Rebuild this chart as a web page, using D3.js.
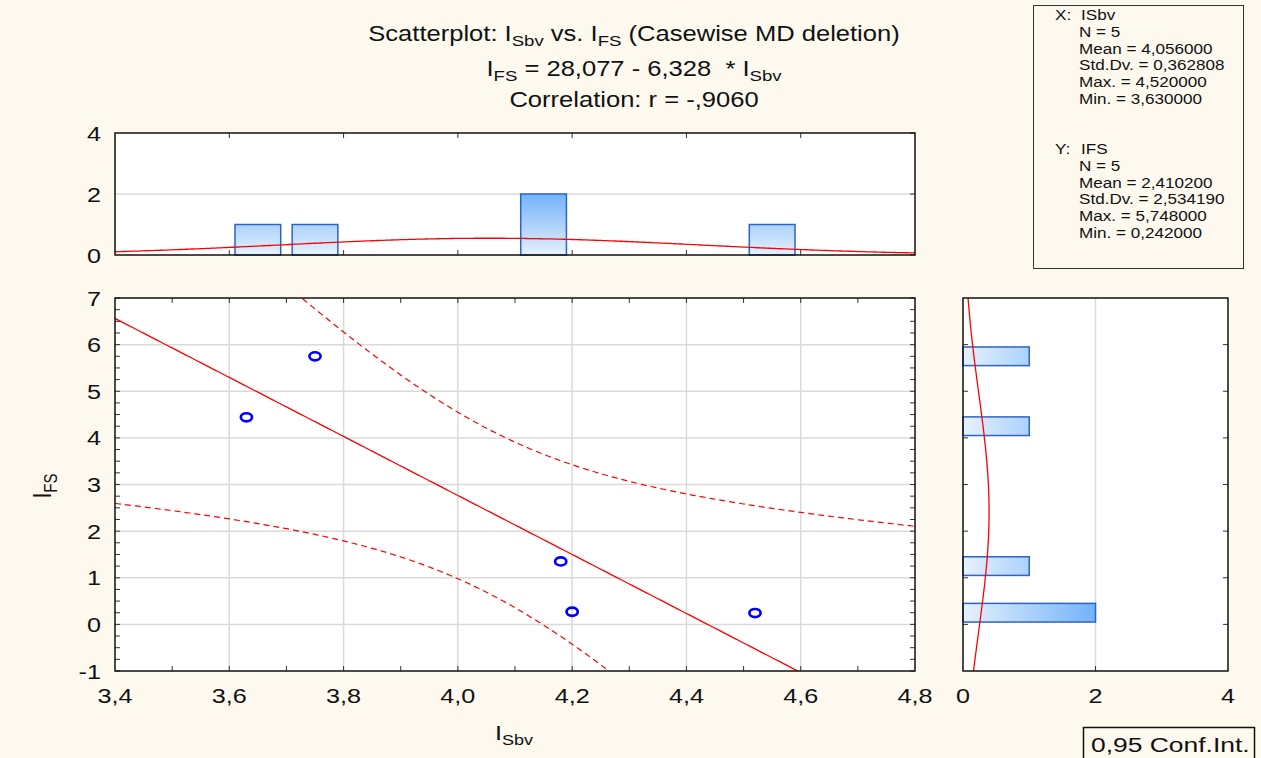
<!DOCTYPE html>
<html>
<head>
<meta charset="utf-8">
<script src="https://cdn.jsdelivr.net/npm/d3@7"></script>
<style>
  body { margin: 0; background: #fdf9ef; }
  text { font-family: "Liberation Sans", Arial, sans-serif; fill: #111; }
</style>
</head>
<body>
<div id="chart"></div>
<script>
// data
var xVals = [3.63, 3.75, 4.18, 4.20, 4.52];      // ISbv
var yVals = [4.44, 5.748, 1.351, 0.27, 0.242];   // IFS

var xBinCenters = [3.55, 3.65, 3.75, 3.85, 3.95, 4.05, 4.15, 4.25, 4.35, 4.45, 4.55, 4.65];
var xBinCounts  = [0, 1, 1, 0, 0, 0, 2, 0, 0, 0, 1, 0];
var yBinCenters = [0.25, 0.75, 1.25, 1.75, 2.25, 2.75, 3.25, 3.75, 4.25, 4.75, 5.25, 5.75];
var yBinCounts  = [2, 0, 1, 0, 0, 0, 0, 0, 1, 0, 0, 1];

var xTicks = [3.4, 3.6, 3.8, 4.0, 4.2, 4.4, 4.6, 4.8];
var yTicks = [-1, 0, 1, 2, 3, 4, 5, 6, 7];
var histTicks = [0, 2, 4];

var fitCoef = [28.077, -6.328];   // intercept, slope
var corrR = -0.9060;
var statNames = ["N", "Mean", "Std.Dv.", "Max.", "Min."];
var statsX = [5, 4.056, 0.362808, 4.52, 3.63];
var statsY = [5, 2.4102, 2.53419, 5.748, 0.242];

var svgWidth = 1261;
var svgHeight = 758;
var SX = 1.2;  // the original is stretched horizontally

var svg = d3.select("#chart")
  .append("svg")
  .attr("width", svgWidth)
  .attr("height", svgHeight);

svg.append("rect").attr("width", svgWidth).attr("height", svgHeight).attr("fill", "#fdf9ef");

var x = d3.scaleLinear().domain([3.4, 4.8]).range([115, 915]);
var y = d3.scaleLinear().domain([-1, 7]).range([671, 298]);
var yTop = d3.scaleLinear().domain([0, 4]).range([255, 133]);
var xRight = d3.scaleLinear().domain([0, 4]).range([963, 1228]);

var comma = function(v, n) { return v.toFixed(n).replace(".", ","); };

// stretched text helper
function stext(g, px, py, size, anchor, sx) {
  return g.append("text")
    .attr("transform", `translate(${px},${py}) scale(${sx || SX},1)`)
    .attr("font-size", size)
    .attr("text-anchor", anchor || "start");
}

// gradients
var defs = svg.append("defs");
var gTop = defs.append("linearGradient").attr("id", "gradTop")
  .attr("gradientUnits", "userSpaceOnUse")
  .attr("x1", 0).attr("x2", 0).attr("y1", yTop(0)).attr("y2", yTop(2));
gTop.append("stop").attr("offset", 0).attr("stop-color", "#e6f1fd");
gTop.append("stop").attr("offset", 1).attr("stop-color", "#72b3f8");
var gRight = defs.append("linearGradient").attr("id", "gradRight")
  .attr("gradientUnits", "userSpaceOnUse")
  .attr("y1", 0).attr("y2", 0).attr("x1", xRight(0)).attr("x2", xRight(2));
gRight.append("stop").attr("offset", 0).attr("stop-color", "#e6f1fd");
gRight.append("stop").attr("offset", 1).attr("stop-color", "#72b3f8");

defs.append("clipPath").attr("id", "clipMain").append("rect")
  .attr("x", 115).attr("y", 298).attr("width", 800).attr("height", 373);
defs.append("clipPath").attr("id", "clipRight").append("rect")
  .attr("x", 963).attr("y", 298).attr("width", 265).attr("height", 373);

// inward ticks helper
function ticksOn(g, vals, pos, edge, len, dir) {
  vals.forEach(function(v) {
    var p = pos(v);
    if (dir === "h") {
      g.append("line").attr("x1", p).attr("x2", p).attr("y1", edge).attr("y2", edge + len);
    } else {
      g.append("line").attr("y1", p).attr("y2", p).attr("x1", edge).attr("x2", edge + len);
    }
  });
}

var gridColor = "#dadada";
var tickColor = "#333";

// ===== main scatter =====
var mainG = svg.append("g");
mainG.append("rect").attr("x", 115).attr("y", 298).attr("width", 800).attr("height", 373).attr("fill", "#fff");

mainG.selectAll(".vgrid").data(xTicks.slice(1, -1)).enter().append("line")
  .attr("x1", d => x(d)).attr("x2", d => x(d)).attr("y1", 298).attr("y2", 671)
  .attr("stroke", gridColor).attr("stroke-width", 1.5);
mainG.selectAll(".hgrid").data(yTicks.slice(1, -1)).enter().append("line")
  .attr("y1", d => y(d)).attr("y2", d => y(d)).attr("x1", 115).attr("x2", 915)
  .attr("stroke", gridColor).attr("stroke-width", 1.5);

var tk = mainG.append("g").attr("stroke", tickColor).attr("stroke-width", 1);
var xMinor = d3.range(35, 48).map(d => d / 10);
var yMinor = d3.range(-4, 29).map(d => d / 4);
ticksOn(tk, xMinor, x, 671, -5, "h");
ticksOn(tk, xMinor, x, 298, 5, "h");
ticksOn(tk, yMinor, y, 115, 5, "v");
ticksOn(tk, yMinor, y, 915, -5, "v");

// fit line and 95% confidence band of the mean
var n = xVals.length;
var xbar = d3.mean(xVals);
var sxx = d3.sum(xVals, d => (d - xbar) * (d - xbar));
var sse = d3.sum(xVals, (d, i) => Math.pow(yVals[i] - (fitCoef[0] + fitCoef[1] * d), 2));
var se = Math.sqrt(sse / (n - 2));
var tCrit = 3.1824;
var xs = d3.range(3.4, 4.8001, 0.005);
var fit = d => fitCoef[0] + fitCoef[1] * d;
var hw = d => tCrit * se * Math.sqrt(1 / n + (d - xbar) * (d - xbar) / sxx);

var lineG = mainG.append("g").attr("clip-path", "url(#clipMain)");
var ln = d3.line().x(d => x(d[0])).y(d => y(d[1]));
lineG.append("path").attr("d", ln(xs.map(d => [d, fit(d)])))
  .attr("fill", "none").attr("stroke", "#ff0000").attr("stroke-width", 1.3);
lineG.append("path").attr("d", ln(xs.map(d => [d, fit(d) + hw(d)])))
  .attr("fill", "none").attr("stroke", "#ff0000").attr("stroke-width", 1.2).attr("stroke-dasharray", "6,4");
lineG.append("path").attr("d", ln(xs.map(d => [d, fit(d) - hw(d)])))
  .attr("fill", "none").attr("stroke", "#ff0000").attr("stroke-width", 1.2).attr("stroke-dasharray", "6,4");

mainG.selectAll("ellipse").data(xVals).enter().append("ellipse")
  .attr("cx", d => x(d)).attr("cy", (d, i) => y(yVals[i]))
  .attr("rx", 5.6).attr("ry", 4.1)
  .attr("fill", "none").attr("stroke", "#0000ff").attr("stroke-width", 2.7);

mainG.append("rect").attr("x", 115).attr("y", 298).attr("width", 800).attr("height", 373)
  .attr("fill", "none").attr("stroke", "#111").attr("stroke-width", 1.5);

// axis labels main
xTicks.forEach(function(v) {
  stext(svg, x(v), 703, 21, "middle").text(comma(v, 1));
});
yTicks.forEach(function(v) {
  stext(svg, 101, y(v) + 7.5, 21, "end").text(v);
});

// ===== top histogram =====
var topG = svg.append("g");
topG.append("rect").attr("x", 115).attr("y", 133).attr("width", 800).attr("height", 122).attr("fill", "#fff");
topG.append("line").attr("x1", 115).attr("x2", 915).attr("y1", yTop(2)).attr("y2", yTop(2))
  .attr("stroke", gridColor).attr("stroke-width", 1.5);
var tk2 = topG.append("g").attr("stroke", tickColor).attr("stroke-width", 1);
ticksOn(tk2, xTicks.slice(1, -1), x, 133, 5, "h");
ticksOn(tk2, xTicks.slice(1, -1), x, 255, -5, "h");
ticksOn(tk2, histTicks, yTop, 915, -5, "v");

topG.selectAll(".bar").data(xBinCenters).enter().append("rect")
  .attr("x", d => x(d - 0.04)).attr("width", d => x(d + 0.04) - x(d - 0.04))
  .attr("y", (d, i) => yTop(xBinCounts[i]))
  .attr("height", (d, i) => yTop(0) - yTop(xBinCounts[i]))
  .attr("fill", "url(#gradTop)").attr("stroke", "#2d63c9").attr("stroke-width", 1.5);

var pdf = (v, m, s) => Math.exp(-0.5 * Math.pow((v - m) / s, 2)) / (s * Math.sqrt(2 * Math.PI));
topG.append("path")
  .attr("d", d3.line().x(d => x(d)).y(d => yTop(n * 0.1 * pdf(d, statsX[1], statsX[2])))(xs))
  .attr("fill", "none").attr("stroke", "#ff0000").attr("stroke-width", 1.3);
topG.append("rect").attr("x", 115).attr("y", 133).attr("width", 800).attr("height", 122)
  .attr("fill", "none").attr("stroke", "#111").attr("stroke-width", 1.5);
histTicks.forEach(function(v) {
  stext(svg, 101, yTop(v) + 7.5, 21, "end").text(v);
});

// ===== right histogram =====
var rG = svg.append("g");
rG.append("rect").attr("x", 963).attr("y", 298).attr("width", 265).attr("height", 373).attr("fill", "#fff");
rG.append("line").attr("x1", xRight(2)).attr("x2", xRight(2)).attr("y1", 298).attr("y2", 671)
  .attr("stroke", gridColor).attr("stroke-width", 1.5);
var tk3 = rG.append("g").attr("stroke", tickColor).attr("stroke-width", 1);
ticksOn(tk3, yTicks.slice(1, -1), y, 963, 5, "v");
ticksOn(tk3, yTicks.slice(1, -1), y, 1228, -5, "v");
ticksOn(tk3, [2], xRight, 671, -5, "h");

rG.selectAll(".bar").data(yBinCenters).enter().append("rect")
  .attr("y", d => y(d + 0.2)).attr("height", d => y(d - 0.2) - y(d + 0.2))
  .attr("x", xRight(0))
  .attr("width", (d, i) => xRight(yBinCounts[i]) - xRight(0))
  .attr("fill", "url(#gradRight)").attr("stroke", "#2d63c9").attr("stroke-width", 1.5);

var ys = d3.range(-1, 7.0001, 0.02);
rG.append("path").attr("clip-path", "url(#clipRight)")
  .attr("d", d3.line().y(d => y(d)).x(d => xRight(n * 0.5 * pdf(d, statsY[1], statsY[2])))(ys))
  .attr("fill", "none").attr("stroke", "#ff0000").attr("stroke-width", 1.3);
rG.append("rect").attr("x", 963).attr("y", 298).attr("width", 265).attr("height", 373)
  .attr("fill", "none").attr("stroke", "#111").attr("stroke-width", 1.5);
histTicks.forEach(function(v) {
  stext(svg, xRight(v), 703, 21, "middle").text(v);
});

// ===== titles =====
var t1 = stext(svg, 634, 41, 21.3, "middle");
t1.append("tspan").text("Scatterplot: I");
t1.append("tspan").attr("font-size", 15.5).attr("dy", 5).text("Sbv");
t1.append("tspan").attr("dy", -5).text(" vs. I");
t1.append("tspan").attr("font-size", 15.5).attr("dy", 5).text("FS");
t1.append("tspan").attr("dy", -5).text(" (Casewise MD deletion)");

var t2 = stext(svg, 634, 76, 21.3, "middle");
t2.append("tspan").text("I");
t2.append("tspan").attr("font-size", 15.5).attr("dy", 5).text("FS");
t2.append("tspan").attr("dy", -5).text("\u00a0= " + comma(fitCoef[0], 3) + " - " + comma(-fitCoef[1], 3) + "\u00a0\u00a0* I");
t2.append("tspan").attr("font-size", 15.5).attr("dy", 5).text("Sbv");

stext(svg, 634, 107, 21.3, "middle").text("Correlation: r = " + comma(corrR, 4).replace("-0", "-"));

// axis titles
var xt = stext(svg, 514, 740, 21, "middle");
xt.append("tspan").text("I");
xt.append("tspan").attr("font-size", 15).attr("dy", 5).text("Sbv");

var yt = svg.append("text")
  .attr("transform", "translate(51,486) rotate(-90) scale(1,1.2)")
  .attr("font-size", 21).attr("text-anchor", "middle");
yt.append("tspan").text("I");
yt.append("tspan").attr("font-size", 15).attr("dy", 5).text("FS");

// ===== stats box =====
svg.append("rect").attr("x", 1033.5).attr("y", 5.5).attr("width", 210).attr("height", 263)
  .attr("fill", "#fdf9ef").attr("stroke", "#333").attr("stroke-width", 1);

function statBlock(top, head, name, vals) {
  stext(svg, 1055, top, 15, "start", 1.14).text(head + ":");
  stext(svg, 1081, top, 15, "start", 1.14).text(name);
  vals.forEach(function(v, i) {
    var txt = i === 0 ? statNames[i] + " = " + v : statNames[i] + " = " + comma(v, 6);
    stext(svg, 1079, top + 16.8 * (i + 1), 15, "start", 1.14).text(txt);
  });
}
statBlock(20, "X", "ISbv", statsX);
statBlock(154, "Y", "IFS", statsY);

// ===== conf int box =====
svg.append("rect").attr("x", 1083.5).attr("y", 727.5).attr("width", 171).attr("height", 35)
  .attr("fill", "#fdf9ef").attr("stroke", "#111").attr("stroke-width", 1.5);
stext(svg, 1091, 752, 20.5, "start", 1.29).text("0,95 Conf.Int.");
</script>
</body>
</html>
